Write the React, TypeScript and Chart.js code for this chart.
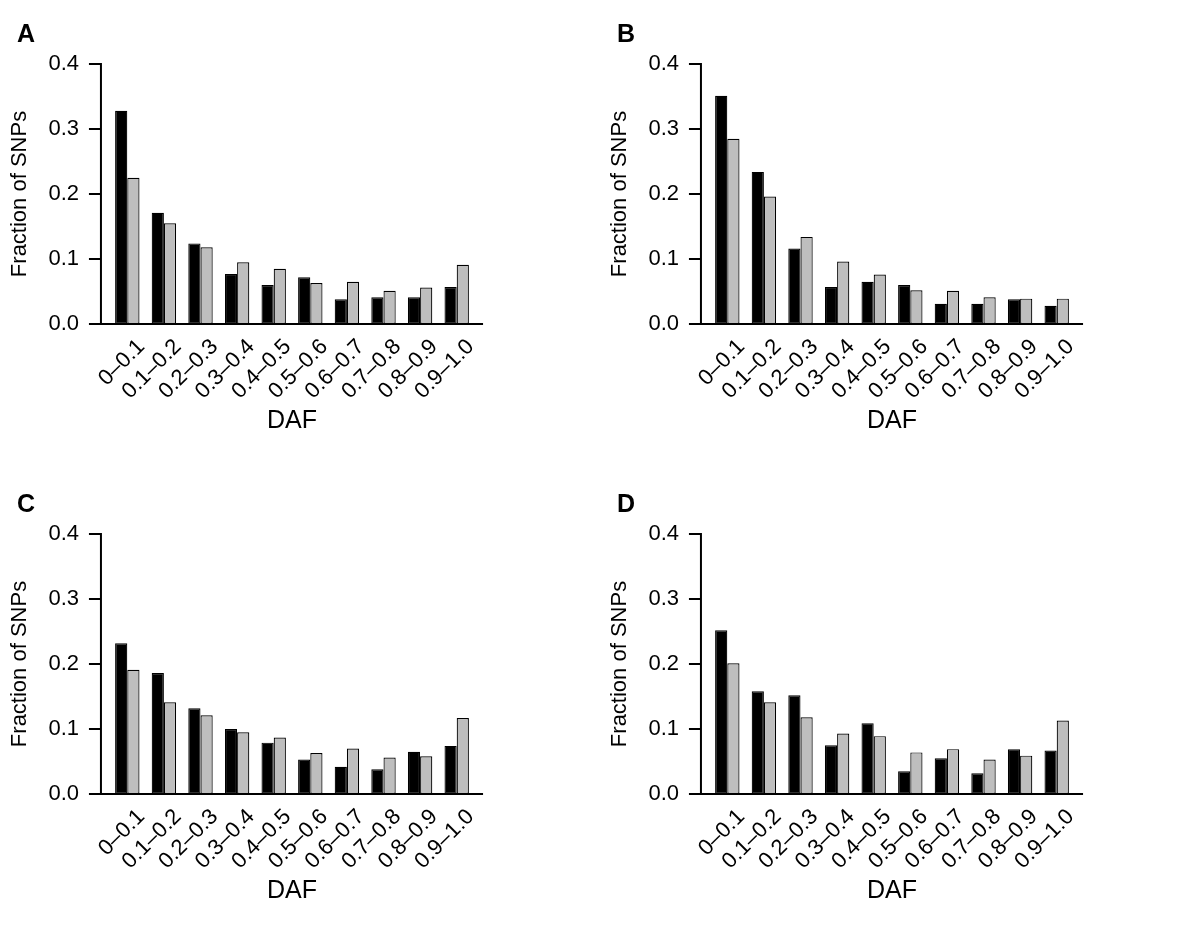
import React, { useEffect, useRef } from "react";
import { Chart, registerables } from "chart.js";

Chart.register(...registerables);

// ---------- data ----------
const categories = [
  "0–0.1", "0.1–0.2", "0.2–0.3", "0.3–0.4", "0.4–0.5",
  "0.5–0.6", "0.6–0.7", "0.7–0.8", "0.8–0.9", "0.9–1.0",
];
const yTicks = [0, 0.1, 0.2, 0.3, 0.4];

const panelA_black = [0.328, 0.171, 0.124, 0.077, 0.060, 0.072, 0.038, 0.041, 0.041, 0.057];
const panelA_gray = [0.225, 0.155, 0.118, 0.095, 0.085, 0.063, 0.065, 0.051, 0.056, 0.091];

const panelB_black = [0.351, 0.234, 0.116, 0.057, 0.065, 0.060, 0.031, 0.031, 0.038, 0.028];
const panelB_gray = [0.285, 0.196, 0.134, 0.096, 0.076, 0.052, 0.051, 0.041, 0.039, 0.039];

const panelC_black = [0.232, 0.186, 0.132, 0.100, 0.079, 0.053, 0.042, 0.038, 0.065, 0.074];
const panelC_gray = [0.191, 0.141, 0.121, 0.095, 0.087, 0.063, 0.070, 0.056, 0.058, 0.117];

const panelD_black = [0.252, 0.158, 0.152, 0.075, 0.109, 0.035, 0.055, 0.032, 0.069, 0.067];
const panelD_gray = [0.201, 0.141, 0.118, 0.093, 0.089, 0.064, 0.069, 0.053, 0.059, 0.113];

const panelLetters = ["A", "B", "C", "D"];
const xTitle = "DAF";
const yTitle = "Fraction of SNPs";

// ---------- styling ----------
const FONT = '"Liberation Sans", Arial, Helvetica, sans-serif';
const PANEL_W = 600;
const PANEL_H = 470;

const rAxesPlugin = {
  id: "rAxes",
  afterDraw(chart: any) {
    const { ctx, chartArea, scales } = chart;
    const y = scales.y;
    const slot = chartArea.width / categories.length;
    const pad = slot * 0.22;
    const axisX = chartArea.left - pad;
    const y0 = y.getPixelForValue(yTicks[0]);
    const yTop = y.getPixelForValue(yTicks[yTicks.length - 1]);
    ctx.save();
    ctx.strokeStyle = "#000";
    ctx.lineWidth = 2;
    ctx.lineCap = "butt";
    ctx.beginPath();
    ctx.moveTo(axisX, yTop - 1);
    ctx.lineTo(axisX, y0 + 1);
    yTicks.forEach((v) => {
      const py = y.getPixelForValue(v);
      ctx.moveTo(axisX - 12, py);
      ctx.lineTo(axisX, py);
    });
    ctx.moveTo(axisX, y0);
    ctx.lineTo(chartArea.right + pad, y0);
    ctx.stroke();
    ctx.restore();
  },
};

function Panel({ black, gray, letter }: { black: number[]; gray: number[]; letter: string }) {
  const ref = useRef<HTMLCanvasElement | null>(null);
  useEffect(() => {
    if (!ref.current) return;
    const chart = new Chart(ref.current, {
      type: "bar",
      data: {
        labels: categories,
        datasets: [
          {
            data: black,
            backgroundColor: "#000000",
            borderColor: "#000000",
            borderWidth: 1.2,
            borderSkipped: false,
            categoryPercentage: 2 / 3,
            barPercentage: 1,
          },
          {
            data: gray,
            backgroundColor: "#bebebe",
            borderColor: "#000000",
            borderWidth: 1.2,
            borderSkipped: false,
            categoryPercentage: 2 / 3,
            barPercentage: 1,
          },
        ],
      },
      options: {
        responsive: false,
        animation: false,
        devicePixelRatio: 1,
        layout: { padding: { left: 0, right: 125, top: 64, bottom: 34 } },
        plugins: { legend: { display: false }, tooltip: { enabled: false } },
        scales: {
          x: {
            type: "category",
            offset: true,
            grid: { display: false, drawTicks: false },
            border: { display: false },
            ticks: {
              autoSkip: false,
              minRotation: 45,
              maxRotation: 45,
              padding: 10,
              labelOffset: 14,
              color: "#000",
              font: { family: FONT, size: 22 },
            },
            title: {
              display: true,
              text: xTitle,
              color: "#000",
              font: { family: FONT, size: 25 },
              padding: { top: 0, bottom: 0 },
            },
            afterFit: (s: any) => {
              s.height = 112;
            },
          },
          y: {
            min: yTicks[0],
            max: yTicks[yTicks.length - 1],
            grid: { display: false, drawTicks: false },
            border: { display: false },
            ticks: {
              stepSize: 0.1,
              padding: 30,
              color: "#000",
              font: { family: FONT, size: 22 },
              callback: (v: any) => Number(v).toFixed(1),
            },
            title: {
              display: true,
              text: yTitle,
              color: "#000",
              font: { family: FONT, size: 22 },
              padding: { top: 7, bottom: 0 },
            },
            afterFit: (s: any) => {
              s.width = 109;
            },
          },
        },
      },
      plugins: [rAxesPlugin],
    });
    return () => chart.destroy();
  }, [black, gray]);

  return (
    <div style={{ position: "relative", width: PANEL_W, height: PANEL_H }}>
      <canvas ref={ref} width={PANEL_W} height={PANEL_H} style={{ display: "block" }} />
      <div
        style={{
          position: "absolute",
          left: 17,
          top: 21,
          fontFamily: FONT,
          fontWeight: "bold",
          fontSize: 25,
          lineHeight: "25px",
          color: "#000",
        }}
      >
        {letter}
      </div>
    </div>
  );
}

export default function App() {
  const panels = [
    { black: panelA_black, gray: panelA_gray },
    { black: panelB_black, gray: panelB_gray },
    { black: panelC_black, gray: panelC_gray },
    { black: panelD_black, gray: panelD_gray },
  ];
  return (
    <div
      style={{
        position: "absolute",
        left: 0,
        top: 0,
        width: 1200,
        height: 940,
        background: "#fff",
        display: "grid",
        gridTemplateColumns: `${PANEL_W}px ${PANEL_W}px`,
        gridTemplateRows: `${PANEL_H}px ${PANEL_H}px`,
      }}
    >
      {panels.map((p, i) => (
        <Panel key={i} black={p.black} gray={p.gray} letter={panelLetters[i]} />
      ))}
    </div>
  );
}
